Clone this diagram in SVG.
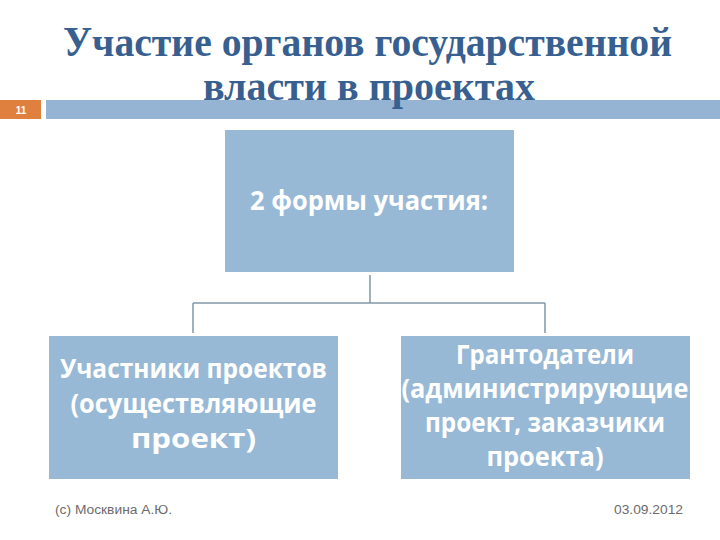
<svg xmlns="http://www.w3.org/2000/svg" width="720" height="540" viewBox="0 0 720 540">
<style>
.title{font-family:"Liberation Serif","DejaVu Serif",serif;font-weight:bold;font-size:42px;fill:#375F90}
.box{fill:#98B9D6}
.bt{font-family:"Open Sans","Liberation Sans",sans-serif;font-weight:bold;font-size:27px;fill:#FFFFFF;text-anchor:middle}
.conn{stroke:#8197A8;stroke-width:1.5;fill:none}
.foot{font-family:"Liberation Sans",Arial,sans-serif;font-size:12px;fill:#6B6B6B}
</style>
<rect x="0" y="0" width="720" height="540" fill="#FFFFFF"/>
<g id="header">
<rect x="0" y="100" width="41" height="19" fill="#E0803F"/>
<rect x="46" y="100" width="674" height="19" fill="#95B4D4"/>
<text x="21" y="114" font-family="'Liberation Sans',Arial,sans-serif" font-size="10" font-weight="bold" fill="#FFFFFF" text-anchor="middle">11</text>
<text class="title" x="63" y="56" textLength="609" lengthAdjust="spacingAndGlyphs">Участие органов государственной</text>
<text class="title" x="203" y="100" textLength="332" lengthAdjust="spacingAndGlyphs">власти в проектах</text>
</g>
<g id="connectors">
<path class="conn" d="M370 275 V303 M193 303 H545 M193 303 V333"/>
<path class="conn" d="M545 303 V333" stroke-width="2"/>
</g>
<g id="node-top">
<rect class="box" x="225" y="130" width="289" height="142"/>
<text class="bt" x="369" y="210" textLength="238" lengthAdjust="spacingAndGlyphs">2 формы участия:</text>
</g>
<g id="node-left">
<rect class="box" x="49" y="336" width="289" height="143"/>
<text class="bt" x="193.5" y="378" textLength="267" lengthAdjust="spacingAndGlyphs">Участники проектов</text>
<text class="bt" x="193.5" y="413" textLength="246" lengthAdjust="spacingAndGlyphs">(осуществляющие</text>
<text class="bt" x="193.5" y="448" textLength="125" lengthAdjust="spacingAndGlyphs">проект)</text>
</g>
<g id="node-right">
<rect class="box" x="401" y="336" width="289" height="143"/>
<text class="bt" x="545" y="364" textLength="178" lengthAdjust="spacingAndGlyphs">Грантодатели</text>
<text class="bt" x="545" y="398" textLength="287" lengthAdjust="spacingAndGlyphs">(администрирующие</text>
<text class="bt" x="545" y="432" textLength="240" lengthAdjust="spacingAndGlyphs">проект, заказчики</text>
<text class="bt" x="545" y="466" textLength="117" lengthAdjust="spacingAndGlyphs">проекта)</text>
</g>
<g id="footer">
<text class="foot" x="55" y="514" textLength="117" lengthAdjust="spacingAndGlyphs">(c) Москвина А.Ю.</text>
<text class="foot" x="614" y="514" textLength="69" lengthAdjust="spacingAndGlyphs">03.09.2012</text>
</g>
</svg>
